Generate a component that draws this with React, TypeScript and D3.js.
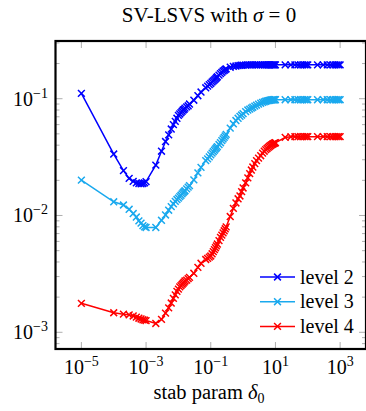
import React from 'react'
import * as d3 from 'd3'

// stab param delta_0 (shared by all levels)
const stabParam = [
  1e-5,
  1e-4, 2e-4, 3e-4, 4e-4, 5e-4, 6e-4, 7e-4, 8e-4, 9e-4,
  1e-3, 2e-3, 3e-3, 4e-3, 5e-3, 6e-3, 7e-3, 8e-3, 9e-3,
  0.010, 0.011, 0.012, 0.013, 0.014, 0.015, 0.016, 0.018, 0.020, 0.022,
  0.03, 0.04, 0.05,
  0.07, 0.08, 0.09, 0.10, 0.11, 0.12, 0.13, 0.14, 0.15, 0.16, 0.18, 0.20, 0.22, 0.24, 0.26, 0.28, 0.30,
  0.4,
  0.5, 0.6, 0.7, 0.8, 0.9, 1.0, 1.2, 1.4, 1.6, 1.8, 2.0, 2.3, 2.6, 3.0, 3.5, 4, 4.5, 5, 5.5, 6, 6.5, 7, 7.5, 8, 8.5, 9, 9.5,
  10, 20, 30, 40, 50, 60, 70, 80, 90,
  100, 200, 300, 400, 500, 600, 700, 800, 900, 1000,
]

const level2 = [
  0.111,
  0.0336, 0.0242, 0.0208, 0.0196, 0.0190, 0.0188, 0.0187, 0.0188, 0.0190,
  0.0195, 0.027, 0.0355, 0.043, 0.049, 0.055, 0.060, 0.064, 0.068,
  0.072, 0.074, 0.076, 0.078, 0.080, 0.081, 0.083, 0.085, 0.087, 0.090,
  0.097, 0.106, 0.114,
  0.124, 0.128, 0.132, 0.135, 0.139, 0.142, 0.145, 0.148, 0.151, 0.154, 0.159, 0.164, 0.168, 0.172, 0.175, 0.178, 0.180,
  0.186,
  0.189, 0.1905, 0.1918, 0.1927, 0.1934, 0.1938, 0.1943, 0.1946, 0.1948, 0.1949, 0.195, 0.195, 0.195, 0.195, 0.195, 0.195, 0.195, 0.195, 0.195, 0.195, 0.195, 0.195, 0.195, 0.195, 0.195, 0.195, 0.195,
  0.195, 0.195, 0.195, 0.195, 0.195, 0.195, 0.195, 0.195, 0.195,
  0.195, 0.195, 0.195, 0.195, 0.195, 0.195, 0.195, 0.195, 0.195, 0.195,
]

const level3 = [
  0.0201,
  0.0131, 0.0123, 0.0113, 0.0104, 0.0097, 0.0090, 0.0086, 0.0082, 0.0080,
  0.0079, 0.0079, 0.0091, 0.0101, 0.0111, 0.0119, 0.0126, 0.0132, 0.0137,
  0.0141, 0.0145, 0.0149, 0.0153, 0.0157, 0.0160, 0.0163, 0.0169, 0.0175, 0.0180,
  0.0202, 0.0232, 0.0258,
  0.0295, 0.0305, 0.0318, 0.033, 0.0342, 0.0352, 0.0362, 0.0372, 0.038, 0.0389, 0.0405, 0.042, 0.0437, 0.0452, 0.0467, 0.048, 0.0495,
  0.056,
  0.061, 0.065, 0.068, 0.0705, 0.0725, 0.0745, 0.0775, 0.080, 0.0815, 0.083, 0.0845, 0.0865, 0.088, 0.0898, 0.0915, 0.093, 0.094, 0.095, 0.0957, 0.0963, 0.0968, 0.0972, 0.0975, 0.0977, 0.0979, 0.098, 0.098,
  0.098, 0.098, 0.098, 0.098, 0.098, 0.098, 0.098, 0.098, 0.098,
  0.098, 0.098, 0.098, 0.098, 0.098, 0.098, 0.098, 0.098, 0.098, 0.098,
]

const level4 = [
  0.00177,
  0.00147, 0.00143, 0.00141, 0.00138, 0.00135, 0.00132, 0.00130, 0.00128, 0.00127,
  0.00126, 0.00119, 0.00129, 0.00146, 0.00162, 0.00178, 0.00195, 0.00209, 0.00224,
  0.00234, 0.00245, 0.00251, 0.00257, 0.00263, 0.00269, 0.00275, 0.0028, 0.00288, 0.00295,
  0.0032, 0.0036, 0.0039,
  0.0042, 0.0043, 0.0044, 0.0045, 0.0047, 0.0049, 0.0051, 0.0053, 0.0055, 0.0057, 0.0061, 0.0065, 0.0068, 0.0071, 0.0074, 0.0077, 0.0080,
  0.0098,
  0.0115, 0.0128, 0.0139, 0.0147, 0.0160, 0.0172, 0.019, 0.021, 0.0228, 0.0245, 0.026, 0.0278, 0.0295, 0.031, 0.0325, 0.0342, 0.0355, 0.0366, 0.0375, 0.0383, 0.039, 0.0396, 0.0402, 0.0407, 0.0411, 0.0415, 0.0418,
  0.042, 0.0466, 0.0472, 0.0473, 0.0473, 0.0473, 0.0473, 0.0473, 0.0473,
  0.0473, 0.0473, 0.0473, 0.0473, 0.0473, 0.0473, 0.0473, 0.0473, 0.0473, 0.0473,
]

const seriesNames = ['level 2', 'level 3', 'level 4']
const seriesColors = ['#0000ff', '#1aa9ee', '#ff0000']
const xTickExps = [-5, -3, -1, 1, 3]
const yTickExps = [-3, -2, -1]

const W = 366
const H = 411
const left = 55.5
const right = 366
const top = 41
const bottom = 349
const font = 'Liberation Serif, Times New Roman, serif'

function Cross({ x, y, color }: { x: number; y: number; color: string }) {
  const s = 3.4
  return (
    <path
      d={`M${x - s},${y - s}L${x + s},${y + s}M${x - s},${y + s}L${x + s},${y - s}`}
      stroke={color}
      strokeWidth={1.5}
      fill="none"
    />
  )
}

function Pow({ x, y, e, anchor }: { x: number; y: number; e: number; anchor: string }) {
  const exp = e < 0 ? '\u2212' + Math.abs(e) : String(e)
  return (
    <text x={x} y={y} textAnchor={anchor} fontFamily={font} fontSize={20} fill="#000">
      10<tspan dy={-8} fontSize={14}>{exp}</tspan>
    </text>
  )
}

export default function App() {
  const x = d3.scaleLog().domain([Math.pow(10, -5.8), Math.pow(10, 3.8)]).range([left, right])
  const y = d3.scaleLog().domain([Math.pow(10, -3.143), Math.pow(10, -0.506)]).range([bottom, top])

  const series = [level2, level3, level4]
  const line = d3.line<number>()

  const minorY: number[] = []
  for (let e = -4; e <= 0; e++) {
    for (let k = 1; k <= 9; k++) {
      const v = k * Math.pow(10, e)
      if (v >= y.domain()[0] && v <= y.domain()[1]) minorY.push(v)
    }
  }

  const tickColor = '#9a9a9a'

  return (
    <svg width={W} height={H} style={{ position: 'absolute', left: 0, top: 0, background: '#fff' }}>
      <defs>
        <clipPath id="plotclip">
          <rect x={left} y={top} width={right - left} height={bottom - top} />
        </clipPath>
      </defs>

      {/* ticks */}
      {xTickExps.map(e => {
        const px = x(Math.pow(10, e))
        return (
          <g key={'xt' + e}>
            <line x1={px} x2={px} y1={bottom} y2={bottom - 7} stroke={tickColor} strokeWidth={0.8} />
            <line x1={px} x2={px} y1={top} y2={top + 7} stroke={tickColor} strokeWidth={0.8} />
          </g>
        )
      })}
      {minorY.map((v, i) => {
        const py = y(v)
        const major = Math.abs(Math.log10(v) - Math.round(Math.log10(v))) < 1e-9
        const len = major ? 7 : 4
        return (
          <g key={'yt' + i}>
            <line x1={left} x2={left + len} y1={py} y2={py} stroke={tickColor} strokeWidth={0.8} />
            <line x1={right} x2={right - len} y1={py} y2={py} stroke={tickColor} strokeWidth={0.8} />
          </g>
        )
      })}

      {/* data */}
      <g clipPath="url(#plotclip)">
        {series.map((s, si) => {
          const pts = stabParam.map((d, i) => [x(d), y(s[i])] as [number, number])
          return (
            <g key={'s' + si}>
              <path d={line(pts) || ''} fill="none" stroke={seriesColors[si]} strokeWidth={1.5} />
              {pts.map((p, i) => (
                <Cross key={i} x={p[0]} y={p[1]} color={seriesColors[si]} />
              ))}
            </g>
          )
        })}
      </g>

      {/* frame */}
      <rect x={left} y={top} width={right - left} height={bottom - top} fill="none" stroke="#000" strokeWidth={2.2} />

      {/* tick labels */}
      {xTickExps.map(e => (
        <Pow key={'xl' + e} x={x(Math.pow(10, e))} y={374} e={e} anchor="middle" />
      ))}
      {yTickExps.map(e => (
        <Pow key={'yl' + e} x={48} y={y(Math.pow(10, e)) + 7} e={e} anchor="end" />
      ))}

      {/* legend */}
      {seriesNames.map((n, i) => {
        const ly = 277 + i * 24.7
        return (
          <g key={'lg' + i}>
            <line x1={260} x2={295} y1={ly} y2={ly} stroke={seriesColors[i]} strokeWidth={1.5} />
            <Cross x={277.5} y={ly} color={seriesColors[i]} />
            <text x={300} y={ly + 6.5} fontFamily={font} fontSize={20} fill="#000">{n}</text>
          </g>
        )
      })}

      {/* title */}
      <text x={209} y={22} textAnchor="middle" fontFamily={font} fontSize={21} fill="#000">
        SV-LSVS with <tspan fontStyle="italic">σ</tspan> = 0
      </text>

      {/* x label */}
      <text x={209} y={399} textAnchor="middle" fontFamily={font} fontSize={20.5} fill="#000">
        stab param <tspan fontStyle="italic">δ</tspan>
        <tspan dy={4} fontSize={14}>0</tspan>
      </text>
    </svg>
  )
}
